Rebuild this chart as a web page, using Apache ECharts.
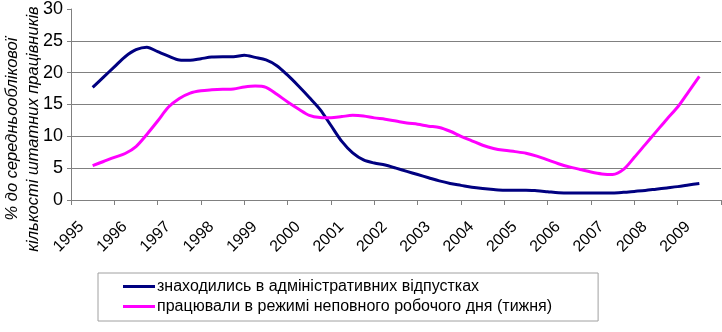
<!DOCTYPE html>
<html>
<head>
<meta charset="utf-8">
<script src="https://cdn.jsdelivr.net/npm/echarts@6/dist/echarts.min.js"></script>
<style>
html,body{margin:0;padding:0;background:#fff;}
#c{width:722px;height:332px;}
</style>
</head>
<body>
<div id="c"></div>
<script>
// Year categories (axis labels)
const years = ['1995','1996','1997','1998','1999','2000','2001','2002','2003','2004','2005','2006','2007','2008','2009'];
// Quarterly sample times (1995.00 ... 2009.00)
const sampleTimes = Array.from({length: 57}, (_, i) => 1995 + i / 4);
// Share of staff on administrative leave, %
const adminLeave = [
  17.7, 19.3, 20.9, 22.5, 23.6, 24.0, 23.3, 22.6,
  22.0, 21.95, 22.2, 22.45, 22.5, 22.5, 22.75, 22.4,
  22.0, 21.1, 19.6, 17.9, 16.1, 14.2, 11.7, 9.2,
  7.4, 6.3, 5.8, 5.5, 5.0, 4.5, 4.0, 3.5,
  3.0, 2.6, 2.3, 2.0, 1.8, 1.65, 1.55, 1.55,
  1.55, 1.45, 1.3, 1.15, 1.1, 1.1, 1.1, 1.1,
  1.1, 1.2, 1.35, 1.5, 1.7, 1.9, 2.1, 2.35,
  2.6
];
// Share of staff working part-time (day/week), %
const partTime = [
  5.4, 6.05, 6.7, 7.3, 8.4, 10.3, 12.4, 14.6,
  15.95, 16.8, 17.15, 17.3, 17.4, 17.45, 17.75, 17.9,
  17.7, 16.6, 15.4, 14.3, 13.3, 12.95, 12.9, 13.1,
  13.3, 13.2, 12.9, 12.7, 12.4, 12.1, 11.9, 11.6,
  11.4, 10.8, 10.0, 9.3, 8.6, 8.1, 7.8, 7.6,
  7.35, 6.9, 6.3, 5.7, 5.2, 4.8, 4.4, 4.1,
  4.0, 4.8, 6.7, 8.7, 10.7, 12.7, 14.6, 17.0,
  19.4
];
const seriesNames = ['знаходились в адміністративних відпустках', 'працювали в режимі неповного робочого дня (тижня)'];
const yTitle = '% до середньооблікової\nкількості штатних працівників';
const yTicks = {min: 0, max: 30, step: 5};

const FONT = '"Liberation Sans", Arial, sans-serif';
const chart = echarts.init(document.getElementById('c'), null, {renderer: 'canvas'});
const pairs = arr => arr.map((v, i) => [sampleTimes[i], v]);

chart.setOption({
  animation: false,
  backgroundColor: '#ffffff',
  grid: {left: 71, right: 1, top: 8, bottom: 132, containLabel: false},
  xAxis: [
    {
      type: 'category', data: years, boundaryGap: true,
      axisLine: {show: true, lineStyle: {color: '#808080', width: 1}},
      axisTick: {show: true, length: 5, interval: 0, alignWithLabel: false, lineStyle: {color: '#808080'}},
      axisLabel: {interval: 0, rotate: 45, margin: 13, padding: [0, 16, 0, 0], color: '#000', fontSize: 16, fontFamily: FONT},
      splitLine: {show: false}
    },
    {
      type: 'value', min: 1994.5, max: 2009.5, show: false,
      splitLine: {show: false}
    }
  ],
  yAxis: {
    type: 'value', min: yTicks.min, max: yTicks.max, interval: yTicks.step,
    axisLine: {show: true, lineStyle: {color: '#808080', width: 1}},
    axisTick: {show: true, length: 4, lineStyle: {color: '#808080'}},
    axisLabel: {color: '#000', fontSize: 18, fontFamily: FONT, margin: 8},
    splitLine: {show: true, showMaxLine: false, lineStyle: {color: '#808080', width: 1}}
  },
  legend: {
    orient: 'vertical', left: 98, top: 273,
    padding: [5, 46, 6, 25],
    borderColor: '#a0a0a0', borderWidth: 1,
    icon: 'rect', itemWidth: 32, itemHeight: 3, itemGap: 3,
    textStyle: {fontSize: 16, fontFamily: FONT, color: '#000', lineHeight: 17, padding: [0, 0, 0, -3]},
    data: seriesNames
  },
  graphic: [{
    type: 'text', x: 23, y: 129, rotation: Math.PI / 2,
    style: {text: yTitle, font: 'italic 16.5px ' + FONT, fill: '#000', align: 'center', verticalAlign: 'middle', lineHeight: 21}
  }],
  series: [
    {name: seriesNames[0], type: 'line', xAxisIndex: 1, data: pairs(adminLeave), smooth: 0.3, showSymbol: false,
     lineStyle: {color: '#000080', width: 3}, itemStyle: {color: '#000080'}},
    {name: seriesNames[1], type: 'line', xAxisIndex: 1, data: pairs(partTime), smooth: 0.3, showSymbol: false,
     lineStyle: {color: '#ff00ff', width: 3}, itemStyle: {color: '#ff00ff'}}
  ]
});
</script>
</body>
</html>
